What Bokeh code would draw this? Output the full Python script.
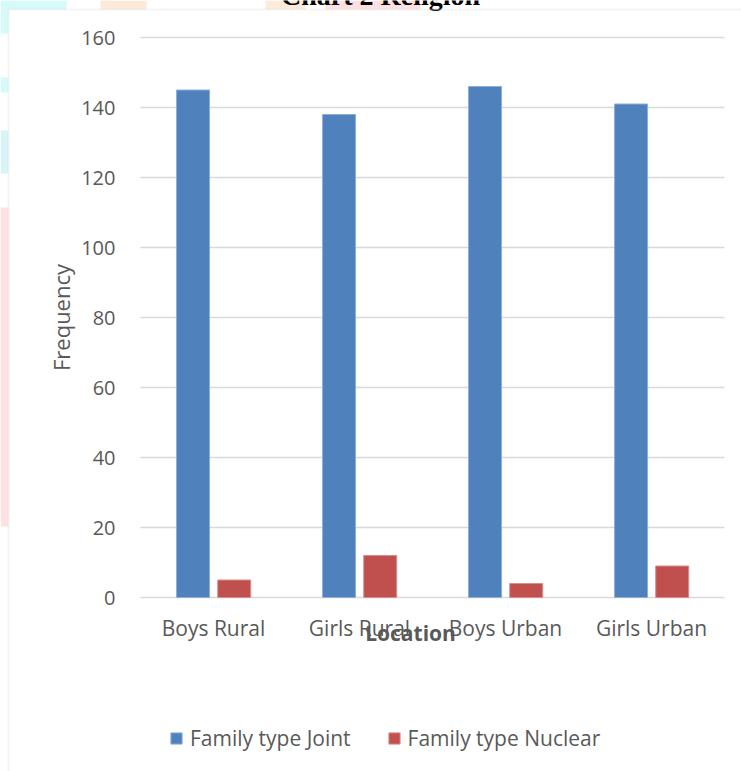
import math

from bokeh.plotting import figure
from bokeh.models import (ColumnDataSource, Range1d, FixedTicker,
                          Label, Legend, LegendItem, BoxAnnotation)
from bokeh.embed import file_html
from bokeh.resources import INLINE

# Data
categories = ["Boys Rural", "Girls Rural", "Boys Urban", "Girls Urban"]
joint = [145, 138, 146, 141]
nuclear = [5, 12, 4, 9]
y_ticks = [0, 20, 40, 60, 80, 100, 120, 140, 160]

BLUE = "#4f81bd"
RED = "#c0504d"
GREY_TEXT = "#595959"
GRID = "#d9d9d9"
FONT = "Open Sans"

W, H = 741, 771
# plot area inside the canvas (pixels)
PLOT_L, PLOT_R, PLOT_T, PLOT_B = 140, 724, 37, 597

# Categories sit on unit slots 0..n; the frame fills the whole canvas and the
# ranges are widened so the slots and the 0..160 value span land on the plot area.
n = len(categories)
slot = [i + 0.5 for i in range(n)]
cat_px = (PLOT_R - PLOT_L) / n
val_px = (PLOT_B - PLOT_T) / 160.0
x_range = Range1d(-PLOT_L / cat_px, n + (W - PLOT_R) / cat_px)
y_range = Range1d(-(H - PLOT_B) / val_px, 160 + PLOT_T / val_px)

BAR_W = 0.226
OFFSET_J, OFFSET_N = -0.14, 0.142
source = ColumnDataSource(dict(
    cat=categories,
    xj=[s + OFFSET_J for s in slot], joint=joint,
    xn=[s + OFFSET_N for s in slot], nuclear=nuclear))
grid_src = ColumnDataSource(dict(x0=[0] * len(y_ticks), x1=[n] * len(y_ticks),
                                 y=y_ticks))

p = figure(width=W, height=H, output_backend="svg", toolbar_location=None,
           x_range=x_range, y_range=y_range,
           min_border=0, min_border_left=0, min_border_right=0,
           min_border_top=0, min_border_bottom=0)
p.outline_line_color = None
p.background_fill_color = "white"
p.border_fill_color = "white"
p.xgrid.visible = False
p.ygrid.visible = False

# Faint page decoration showing around the chart area
for l, r, t, b, c in [(0, 8, 0, 33, "#d6fafc"), (0, 66, 0, 9, "#d6fafc"),
                      (0, 8, 77, 92, "#d6fafc"), (0, 8, 130, 173, "#d9f3fa"),
                      (0, 8, 207, 526, "#fde1e1"), (100, 146, 0, 9, "#fde9da"),
                      (265, 305, 0, 9, "#fdebd9"), (325, 420, 0, 9, "#fde1e1")]:
    p.add_layout(BoxAnnotation(left=l, right=r, top=H - t, bottom=H - b,
                               left_units="screen", right_units="screen",
                               top_units="screen", bottom_units="screen",
                               fill_color=c, fill_alpha=1, line_color=None))

# Horizontal gridlines across the plot area
p.segment(x0="x0", x1="x1", y0="y", y1="y", source=grid_src,
          line_color=GRID, line_width=1.5)

r_joint = p.vbar(x="xj", top="joint", width=BAR_W, source=source,
                 fill_color=BLUE, line_color="#8eaedb", line_width=1)
r_nuc = p.vbar(x="xn", top="nuclear", width=BAR_W, source=source,
               fill_color=RED, line_color="#d98c8a", line_width=1)

# Value axis pinned at the plot's left edge
p.yaxis.fixed_location = 0
p.yaxis.ticker = FixedTicker(ticks=y_ticks)
p.yaxis.axis_line_color = None
p.yaxis.major_tick_line_color = None
p.yaxis.minor_tick_line_color = None
p.yaxis.major_label_standoff = 19
p.yaxis.major_label_text_font = FONT
p.yaxis.major_label_text_font_size = "20px"
p.yaxis.major_label_text_color = GREY_TEXT

# Category axis pinned at zero
p.xaxis.fixed_location = 0
p.xaxis.ticker = FixedTicker(ticks=slot)
p.xaxis.major_label_overrides = {s: c for s, c in zip(slot, categories)}
p.xaxis.axis_line_color = None
p.xaxis.major_tick_line_color = None
p.xaxis.minor_tick_line_color = None
p.xaxis.major_label_standoff = 10
p.xaxis.major_label_text_font = FONT
p.xaxis.major_label_text_font_size = "21px"
p.xaxis.major_label_text_color = GREY_TEXT


def canvas_label(cx, cy, **kw):
    """Label placed by canvas pixel position (origin top-left)."""
    return Label(x=cx, y=H - cy, x_units="screen", y_units="screen", **kw)


# Value axis title, centred on the plot area
p.add_layout(canvas_label(60, (PLOT_T + PLOT_B) / 2, text="Frequency",
                          angle=math.pi / 2, text_align="center",
                          text_baseline="middle", text_font=FONT,
                          text_font_size="22px", text_color=GREY_TEXT))

# Category axis title, overlapping the labels
p.add_layout(canvas_label(410, 632, text="Location", text_align="center",
                          text_baseline="alphabetic", text_font=FONT,
                          text_font_style="bold", text_font_size="21px",
                          text_color=GREY_TEXT))

# Chart title, mostly cut off at the top edge
p.add_layout(canvas_label(380, -5, text="Chart 2 Religion", text_align="center",
                          text_baseline="alphabetic", text_font="Liberation Serif",
                          text_font_style="bold", text_font_size="28px",
                          text_color="black"))

# Chart area border
p.add_layout(BoxAnnotation(left=8, right=W + 20, top=H - 9, bottom=-20,
                           left_units="screen", right_units="screen",
                           top_units="screen", bottom_units="screen",
                           fill_color=None, line_color=GRID, line_width=2))

legend = Legend(items=[LegendItem(label="Family type Joint", renderers=[r_joint]),
                       LegendItem(label="Family type Nuclear", renderers=[r_nuc])],
                orientation="horizontal", location=(169, H - 752),
                label_text_font=FONT, label_text_font_size="21px",
                label_text_color=GREY_TEXT, glyph_width=14, glyph_height=14,
                label_standoff=7, spacing=36, padding=0, margin=0,
                border_line_color=None, background_fill_color=None)
p.add_layout(legend, "center")

open("out.html", "w").write(file_html(p, INLINE))
